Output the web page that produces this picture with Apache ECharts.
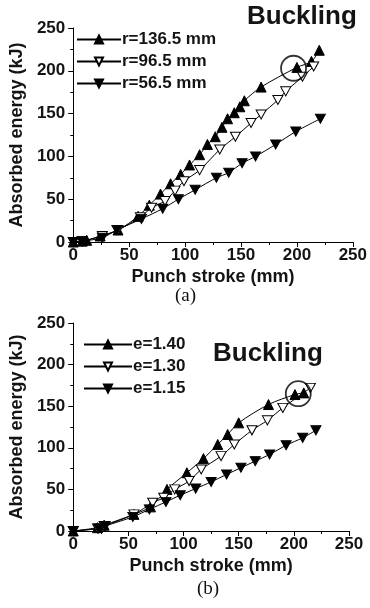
<!DOCTYPE html>
<html><head><meta charset="utf-8">
<script src="https://cdn.jsdelivr.net/npm/echarts@6/dist/echarts.min.js"></script>
<style>html,body{margin:0;padding:0;background:#fff}#c{width:370px;height:608px}</style>
</head><body><div id="c"></div>
<script>
// Panel (a)
const namesA = ['r=136.5 mm', 'r=96.5 mm', 'r=56.5 mm'];
const r136 = [[0,0],[8,1],[12,2],[24,7],[40,14],[58,30],[68,43],[78,56],[87,68],[96,79],[104,90],[113,102],[120,114],[127,123],[133,134],[138,144],[144,151],[149,158],[153,165],[168,181],[200,204],[213,211],[220,224]];
const r96 = [[0,0],[8,1],[26,7],[40,14],[60,29],[70,40],[82,48],[91,60],[99,71],[113,84],[131,108],[145,123],[159,139],[168,149],[183,166],[190,176],[205,193],[215,205]];
const r56 = [[0,0],[8,1],[26,5],[39,14],[61,27],[80,39],[94,50],[109,61],[128,75],[139,81],[151,92],[163,100],[181,114],[199,129],[221,144]];
const circleA = [[197,203]];
// Panel (b)
const namesB = ['e=1.40', 'e=1.30', 'e=1.15'];
const e140 = [[0,0],[22,4],[28,7],[55,20],[70,29],[85,50],[103,70],[118,87],[131,104],[140,116],[150,130],[177,152],[201,164],[209,166]];
const e130 = [[0,0],[22,3],[28,6],[55,20],[72,34],[82,40],[92,50],[105,60],[116,74],[134,90],[146,104],[162,121],[176,133],[190,148],[215,172]];
const e115 = [[0,0],[23,3],[29,6],[54,17],[69,26],[84,35],[97,43],[111,51],[125,59],[139,68],[152,76],[165,84],[178,92],[193,103],[208,112],[220,121]];
const circleB = [[204,165]];
const xTicks = [0,50,100,150,200,250];
const yTicks = [0,50,100,150,200,250];

const FONT = 'Liberation Sans';
const TXT = '#141414';
const up = 'triangle';
const down = 'path://M0,0 L10,0 L5,9 Z';

function axisX(gi) {
  return {
    type:'value', gridIndex:gi, min:xTicks[0], max:xTicks[xTicks.length-1], interval:50,
    name:'Punch stroke (mm)', nameLocation:'middle', nameGap:26,
    nameTextStyle:{fontFamily:FONT, fontWeight:'bold', fontSize:18, color:TXT},
    axisLine:{show:true, lineStyle:{color:'#000', width:1}},
    axisTick:{show:true, inside:false, length:5, lineStyle:{color:'#000'}},
    minorTick:{show:true, splitNumber:2, length:3, lineStyle:{color:'#000'}},
    splitLine:{show:false},
    axisLabel:{margin:5, fontFamily:FONT, fontWeight:'bold', fontSize:17, color:TXT}
  };
}
function axisY(gi) {
  return {
    type:'value', gridIndex:gi, min:yTicks[0], max:yTicks[yTicks.length-1], interval:50,
    name:'Absorbed energy (kJ)', nameLocation:'middle', nameGap:41,
    nameTextStyle:{fontFamily:FONT, fontWeight:'bold', fontSize:18, color:TXT},
    axisLine:{show:true, lineStyle:{color:'#000', width:1}},
    axisTick:{show:true, inside:false, length:5, lineStyle:{color:'#000'}},
    minorTick:{show:true, splitNumber:2, length:3, lineStyle:{color:'#000'}},
    splitLine:{show:false},
    axisLabel:{margin:8, fontFamily:FONT, fontWeight:'bold', fontSize:17, color:TXT}
  };
}
function line(name, data, gi, symbol, fill) {
  return {
    type:'line', name:name, data:data, xAxisIndex:gi, yAxisIndex:gi,
    smooth:0.3, symbol:symbol, symbolSize: symbol===up ? 10 : [10,9],
    showAllSymbol:true,
    lineStyle:{color:'#000', width:1},
    itemStyle:{color:fill, borderColor:'#000', borderWidth:1},
    emphasis:{disabled:true}, animation:false, z:3
  };
}
function circ(data, gi) {
  return {
    type:'scatter', data:data, xAxisIndex:gi, yAxisIndex:gi, symbol:'circle', symbolSize:25,
    itemStyle:{color:'rgba(0,0,0,0)', borderColor:'#000', borderWidth:1.8},
    silent:true, animation:false, z:4
  };
}
function legend(names, left, top, w) {
  return {
    data:names.map(n=>({name:n})), orient:'vertical', left:left, top:top,
    itemWidth:w, itemHeight:10, itemGap:5,
    textStyle:{fontFamily:FONT, fontWeight:'bold', fontSize:17, color:TXT, padding:[0,0,0,-4]},
    selectedMode:false
  };
}
const chart = echarts.init(document.getElementById('c'), null, {renderer:'canvas'});
chart.setOption({
  animation:false,
  backgroundColor:'#fff',
  grid:[
    {left:67, top:28, width:287, height:214},
    {left:67, top:323, width:282, height:208}
  ],
  xAxis:[axisX(0), axisX(1)],
  yAxis:[axisY(0), axisY(1)],
  legend:[legend(namesA, 71, 26, 44), legend(namesB, 78, 331, 48)],
  series:[
    line(namesA[0], r136, 0, up, '#000'),
    line(namesA[1], r96, 0, down, '#fff'),
    line(namesA[2], r56, 0, down, '#000'),
    circ(circleA, 0),
    line(namesB[0], e140, 1, up, '#000'),
    line(namesB[1], e130, 1, down, '#fff'),
    line(namesB[2], e115, 1, down, '#000'),
    circ(circleB, 1)
  ],
  graphic:[
    {type:'text', left:247, top:4, style:{text:'Buckling', fontFamily:FONT, fontWeight:'bold', fontSize:26, fill:TXT}},
    {type:'text', left:213, top:341, style:{text:'Buckling', fontFamily:FONT, fontWeight:'bold', fontSize:26, fill:TXT}},
    {type:'text', left:175, top:287, style:{text:'(a)', fontFamily:'Liberation Serif', fontSize:19, fill:'#111'}},
    {type:'text', left:197, top:580, style:{text:'(b)', fontFamily:'Liberation Serif', fontSize:19, fill:'#111'}}
  ]
});
</script></body></html>
